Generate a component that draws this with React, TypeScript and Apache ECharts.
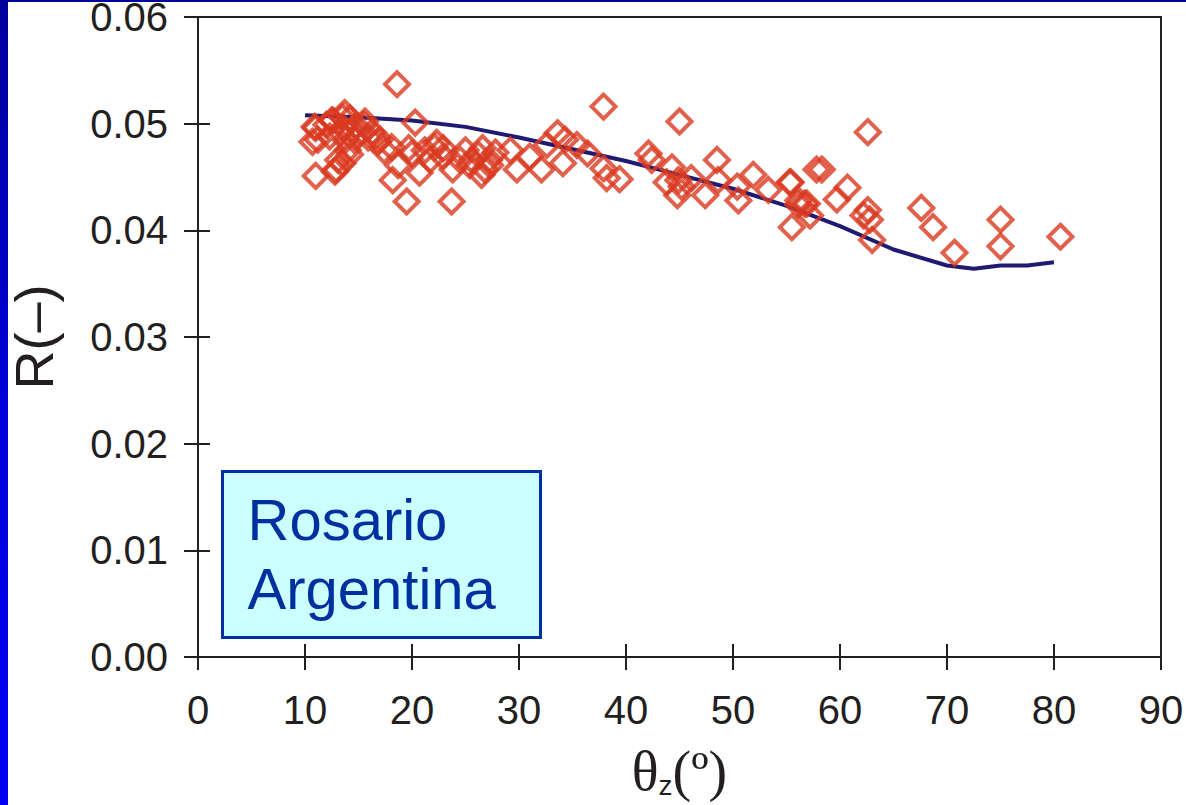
import React, { useEffect, useRef } from "react";
import * as echarts from "echarts";

const xTicks = [0, 10, 20, 30, 40, 50, 60, 70, 80, 90];
const yTicks = [0, 0.01, 0.02, 0.03, 0.04, 0.05, 0.06];

const modelX = [10, 15, 20, 25, 30, 35, 40, 45, 50, 55, 60, 65, 70, 72.5, 75, 77.5, 80];
const modelR = [0.0508, 0.0506, 0.0503, 0.0497, 0.0487, 0.0476, 0.0465, 0.0452, 0.0439, 0.0423, 0.0404, 0.0382, 0.0367, 0.0364, 0.0367, 0.0367, 0.037];

const obsX = [
  11.0, 11.2, 11.0, 12.0, 12.3, 12.6, 12.9, 13.1, 13.3, 13.5, 13.6, 13.8, 14.0, 14.2, 14.4, 14.6, 14.8, 15.1, 15.5, 15.9,
  16.8, 17.4, 18.6, 20.3, 10.9, 10.7, 12.8, 13.5, 14.2, 13.7, 12.5, 17.0, 16.3, 15.6, 18.1, 18.2, 19.5, 18.7, 20.0, 20.7,
  21.7, 22.3, 22.9, 23.7, 22.9, 23.8, 25.0, 25.6, 26.6, 26.5, 27.3, 27.8, 29.2, 29.8, 31.0, 32.1, 32.6, 33.6, 34.3, 34.1,
  35.4, 36.4, 37.9, 37.9, 38.2, 39.4, 45.0, 42.1, 42.4, 44.3, 43.8, 44.9, 45.2, 44.8, 46.1, 47.4, 48.5, 48.6, 50.4, 50.5,
  51.9, 53.3, 55.3, 56.1, 56.7, 57.8, 62.6, 58.3, 55.4, 56.1, 56.9, 57.2, 55.5, 60.7, 59.7, 62.6, 62.2, 62.8, 63.0, 67.6,
  68.7, 70.7, 75.0, 75.0, 80.6, 19.7, 21.2, 22.1, 24.5, 25.4, 26.2, 26.8, 27.2,
];
const obsR = [
  0.0496, 0.0485, 0.0451, 0.0499, 0.0488, 0.0503, 0.0457, 0.0466, 0.0492, 0.0506, 0.0496, 0.0485, 0.0475, 0.0505, 0.0494, 0.0485, 0.0498, 0.0491, 0.0499, 0.0487,
  0.0483, 0.0475, 0.0537, 0.0501, 0.0497, 0.0483, 0.0455, 0.0463, 0.0471, 0.051, 0.0503, 0.0485, 0.0492, 0.0502, 0.0478, 0.0447, 0.0427, 0.0461, 0.0472, 0.0454,
  0.0466, 0.0482, 0.0469, 0.0427, 0.0477, 0.0457, 0.0475, 0.0466, 0.0477, 0.0452, 0.0461, 0.0473, 0.0475, 0.0457, 0.0469, 0.0457, 0.048, 0.0491, 0.0485, 0.0463,
  0.048, 0.0472, 0.0516, 0.0458, 0.0449, 0.0448, 0.0502, 0.0472, 0.0466, 0.0459, 0.0445, 0.0447, 0.0441, 0.0433, 0.0449, 0.0433, 0.0466, 0.0447, 0.0441, 0.0428,
  0.0452, 0.0438, 0.0445, 0.0428, 0.0425, 0.0457, 0.0492, 0.0457, 0.0445, 0.0424, 0.0425, 0.0414, 0.0403, 0.044, 0.0429, 0.0419, 0.0414, 0.041, 0.0391, 0.0421,
  0.0403, 0.0379, 0.041, 0.0385, 0.0394, 0.0477, 0.0475, 0.0478, 0.0466, 0.0461, 0.0471, 0.0457, 0.0466,
];

const boxLines = ["Rosario", "Argentina"];

export default function App() {
  const ref = useRef<HTMLDivElement>(null);
  useEffect(() => {
    document.body.style.margin = "0";
    const chart = echarts.init(ref.current!, null, { renderer: "svg" });
    const axisColor = "#231f20";
    chart.setOption({
      animation: false,
      backgroundColor: "#ffffff",
      grid: {
        left: 198,
        top: 17,
        right: 25,
        bottom: 148,
        outerBoundsMode: "none",
        containLabel: false,
        show: true,
        borderColor: axisColor,
        borderWidth: 2,
        backgroundColor: "transparent",
      },
      xAxis: [
        {
          type: "value",
          min: 0,
          max: 90,
          interval: 10,
          position: "bottom",
          axisLine: { show: true, lineStyle: { color: axisColor, width: 2 } },
          axisTick: { show: true, inside: false, length: 13, lineStyle: { color: axisColor, width: 2 } },
          splitLine: { show: false },
          axisLabel: {
            margin: 33,
            color: axisColor,
            fontSize: 40,
            fontFamily: "Liberation Sans, Arial, sans-serif",
          },
          name: "{t|θ}{s|z}{t|(º)}",
          nameLocation: "middle",
          nameGap: 86,
          nameTextStyle: {
            rich: {
              t: { fontFamily: "Liberation Serif, Times New Roman, serif", fontSize: 56, color: axisColor },
              s: { fontFamily: "Liberation Sans, Arial, sans-serif", fontSize: 28, color: axisColor, verticalAlign: "bottom", padding: [26, 0, 0, 0] },
            },
          },
        },
        {
          type: "value",
          min: 0,
          max: 90,
          interval: 10,
          position: "bottom",
          axisLine: { show: false },
          axisTick: { show: true, inside: true, length: 13, lineStyle: { color: axisColor, width: 2 } },
          axisLabel: { show: false },
          splitLine: { show: false },
        },
      ],
      yAxis: [
        {
          type: "value",
          min: 0,
          max: 0.06,
          interval: 0.01,
          position: "left",
          axisLine: { show: true, lineStyle: { color: axisColor, width: 2 } },
          axisTick: { show: true, inside: false, length: 14, lineStyle: { color: axisColor, width: 2 } },
          splitLine: { show: false },
          axisLabel: {
            margin: 30,
            color: axisColor,
            fontSize: 40,
            fontFamily: "Liberation Sans, Arial, sans-serif",
            formatter: (v: number) => v.toFixed(2),
          },
          name: "R(–)",
          nameLocation: "middle",
          nameRotate: 90,
          nameGap: 137,
          nameTextStyle: {
            fontSize: 54,
            color: axisColor,
            fontFamily: "Liberation Sans, Arial, sans-serif",
          },
        },
        {
          type: "value",
          min: 0,
          max: 0.06,
          interval: 0.01,
          position: "left",
          axisLine: { show: false },
          axisTick: { show: true, inside: true, length: 12, lineStyle: { color: axisColor, width: 2 } },
          axisLabel: { show: false },
          splitLine: { show: false },
        },
      ],
      series: [
        {
          name: "Observed",
          type: "scatter",
          xAxisIndex: 0,
          yAxisIndex: 0,
          symbol: "diamond",
          symbolSize: 24,
          itemStyle: { color: "rgba(0,0,0,0)", borderColor: "#da3a20", borderWidth: 4 },
          data: obsX.map((x, i) => [x, obsR[i]]),
          z: 3,
        },
        {
          name: "Model",
          type: "line",
          xAxisIndex: 0,
          yAxisIndex: 0,
          showSymbol: false,
          symbol: "none",
          lineStyle: { color: "#1f1a72", width: 4 },
          data: modelX.map((x, i) => [x, modelR[i]]),
          z: 2,
        },
      ],
      graphic: [
        {
          type: "rect",
          left: 0,
          top: 0,
          shape: { width: 8, height: 805 },
          style: {
            fill: new echarts.graphic.LinearGradient(0, 0, 0, 1, [
              { offset: 0, color: "#00009a" },
              { offset: 0.5, color: "#0000d8" },
              { offset: 1, color: "#0000f4" },
            ]),
          },
        },
        {
          type: "rect",
          left: 0,
          top: 0,
          shape: { width: 1186, height: 2 },
          style: { fill: "#00009a" },
        },
        {
          type: "group",
          left: 221,
          top: 470,
          children: [
            {
              type: "rect",
              shape: { x: 0, y: 0, width: 318, height: 166 },
              style: { fill: "#ccffff", stroke: "#0030a0", lineWidth: 3 },
            },
            {
              type: "text",
              x: 25,
              y: 13,
              style: {
                text: boxLines.join("\n"),
                fontSize: 58,
                lineHeight: 69,
                fill: "#0030a0",
                fontFamily: "Liberation Sans, Arial, sans-serif",
              },
            },
          ],
        },
      ],
    });
    return () => chart.dispose();
  }, []);
  return <div ref={ref} style={{ position: "fixed", left: 0, top: 0, width: 1186, height: 805 }} />;
}
